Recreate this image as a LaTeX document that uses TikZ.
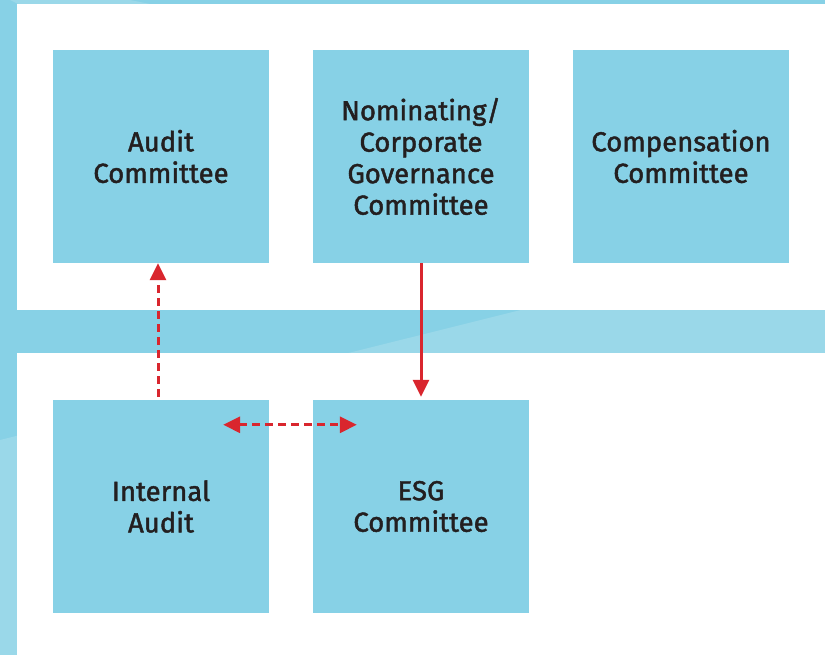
\documentclass[tikz,border=0pt]{standalone}
\usepackage{fontspec}
\setmainfont[FakeBold=1.6]{Fira Sans}
\usetikzlibrary{arrows.meta}
\definecolor{bgblue}{HTML}{87D1E6}
\definecolor{bglight}{HTML}{9AD8E9}
\definecolor{boxblue}{HTML}{87D1E6}
\definecolor{redline}{HTML}{D9262E}
\definecolor{txt}{HTML}{231F20}
\tikzset{
  comm/.style={fill=boxblue, draw=none, minimum width=216pt, minimum height=213pt, inner sep=0pt,
    align=center, text=txt, font=\fontsize{27.5}{31.5}\selectfont},
  tip/.style={Triangle[length=17pt,width=16pt]},
  redsolid/.style={draw=redline, line width=3pt},
  reddash/.style={draw=redline, line width=3pt, dash pattern=on 8pt off 5pt},
}
\begin{document}
\begin{tikzpicture}[x=1pt,y=-1pt]
\useasboundingbox (0,0) rectangle (825,655);
\fill[bgblue] (0,0) rectangle (825,655);
\fill[bglight] (0,440) -- (825,234) -- (825,655) -- (0,655) -- cycle;
\fill[bglight] (10,0) -- (130,0) -- (150,4) -- (18,4) -- cycle;
\fill[white] (17,4) rectangle (825,310);
\fill[white] (17,353) rectangle (825,655);

\node[comm] (audit) at (161,156.5) {Audit\\Committee};
\node[comm] (nom) at (421,156.5) {Nominating/\\Corporate\\Governance\\Committee};
\node[comm] (comp) at (681,156.5) {Compensation\\Committee};
\node[comm] (ia) at (161,506.5) {Internal\\Audit};
\node[comm] (esg) at (421,506.5) {ESG\\Committee};

\draw[redsolid, -{Triangle[length=17pt,width=16pt]}] (nom.south) -- ([yshift=3pt]esg.north);
\draw[reddash, -{Triangle[length=17pt,width=16pt]}] ([xshift=-3pt,yshift=3pt]ia.north) -- ([xshift=-3pt]audit.south);
\draw[reddash, {Triangle[length=17pt,width=16pt]}-{Triangle[length=17pt,width=16pt]}] ([xshift=-46pt,yshift=-25pt]ia.north east) -- ([xshift=44pt,yshift=-25pt]esg.north west);
\end{tikzpicture}
\end{document}
